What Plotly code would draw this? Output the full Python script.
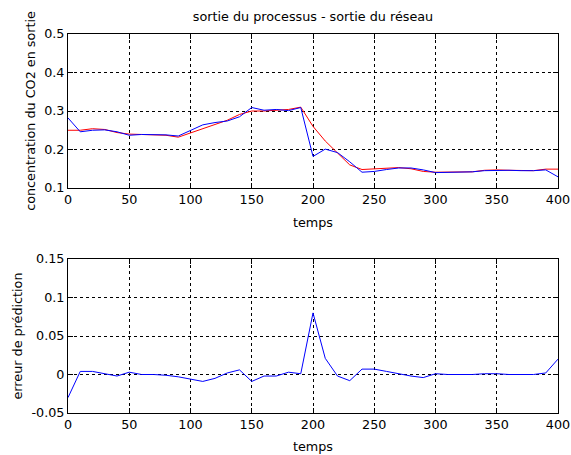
import plotly.graph_objects as go

temps = [0, 10, 20, 30, 40, 50, 60, 70, 80, 90, 100, 110, 120, 130, 140, 150, 160, 170, 180, 190,
         200, 210, 220, 230, 240, 250, 260, 270, 280, 290, 300, 310, 320, 330, 340, 350, 360, 370, 380, 390, 400]

sortie_processus = [0.250, 0.250, 0.254, 0.252, 0.244, 0.240, 0.239, 0.238, 0.237, 0.232,
                    0.243, 0.255, 0.265, 0.276, 0.291, 0.300, 0.300, 0.302, 0.304, 0.310,
                    0.260, 0.222, 0.190, 0.160, 0.148, 0.150, 0.152, 0.153, 0.150, 0.143,
                    0.141, 0.141, 0.141, 0.142, 0.146, 0.147, 0.146, 0.145, 0.145, 0.149, 0.149]

sortie_reseau = [0.282, 0.246, 0.250, 0.251, 0.246, 0.237, 0.239, 0.238, 0.238, 0.235,
                 0.249, 0.264, 0.270, 0.274, 0.285, 0.309, 0.302, 0.304, 0.301, 0.309,
                 0.182, 0.201, 0.192, 0.168, 0.141, 0.143, 0.148, 0.152, 0.152, 0.147,
                 0.140, 0.141, 0.141, 0.142, 0.145, 0.146, 0.146, 0.145, 0.145, 0.147, 0.129]

erreur = [-0.030, 0.004, 0.004, 0.001, -0.002, 0.003, 0.000, 0.000, -0.001, -0.003,
          -0.006, -0.009, -0.005, 0.002, 0.006, -0.009, -0.002, -0.002, 0.003, 0.001,
          0.080, 0.021, -0.002, -0.008, 0.007, 0.007, 0.004, 0.001, -0.002, -0.004,
          0.001, 0.000, 0.000, 0.000, 0.001, 0.001, 0.000, 0.000, 0.000, 0.002, 0.020]

x_ticks = [0, 50, 100, 150, 200, 250, 300, 350, 400]
y1_ticks = [0.1, 0.2, 0.3, 0.4, 0.5]
y1_labels = ["0.1", "0.2", "0.3", "0.4", "0.5"]
y2_ticks = [-0.05, 0, 0.05, 0.1, 0.15]
y2_labels = ["-0.05", "0", "0.05", "0.1", "0.15"]

FONT = dict(family="DejaVu Sans, sans-serif", size=12.75, color="black")

fig = go.Figure()
fig.add_trace(go.Scatter(x=temps, y=sortie_processus, mode="lines",
                         line=dict(color="#ff0000", width=1), xaxis="x", yaxis="y"))
fig.add_trace(go.Scatter(x=temps, y=sortie_reseau, mode="lines",
                         line=dict(color="#0000ff", width=1), xaxis="x", yaxis="y"))
fig.add_trace(go.Scatter(x=temps, y=erreur, mode="lines",
                         line=dict(color="#0000ff", width=1), xaxis="x2", yaxis="y2"))

H = 455
t, b = 34, 42
ph = H - t - b
top_dom = [(413 - 188) / ph, 1.0]
bot_dom = [0.0, (413 - 259) / ph]

axis_common = dict(showline=True, linecolor="black", linewidth=1, mirror="allticks",
                   ticks="inside", ticklen=5, tickcolor="black", tickwidth=1,
                   showgrid=True, gridcolor="black", gridwidth=1, griddash="3px,3px",
                   zeroline=False, tickfont=FONT, automargin=False)

fig.update_layout(
    width=571, height=455,
    margin=dict(l=68, r=13, t=t, b=b),
    paper_bgcolor="white", plot_bgcolor="white",
    showlegend=False,
    font=FONT,
    title=dict(text="sortie du processus - sortie du réseau", x=(68 + 558) / 2 / 571,
               xref="container", xanchor="center",
               y=1 - 17 / H, yref="container", yanchor="middle", font=FONT, automargin=False),
    xaxis=dict(axis_common, domain=[0, 1], range=[0, 400], tickvals=x_ticks,
               anchor="y", title=dict(text="temps", font=FONT, standoff=11)),
    yaxis=dict(axis_common, domain=top_dom, range=[0.1, 0.5], tickvals=y1_ticks,
               ticktext=y1_labels, anchor="x",
               title=dict(text="concentration du CO2 en sortie", font=FONT, standoff=5)),
    xaxis2=dict(axis_common, domain=[0, 1], range=[0, 400], tickvals=x_ticks,
                anchor="y2", title=dict(text="temps", font=FONT, standoff=10)),
    yaxis2=dict(axis_common, domain=bot_dom, range=[-0.05, 0.15], tickvals=y2_ticks,
                ticktext=y2_labels, anchor="x2",
                title=dict(text="erreur de prédiction", font=FONT, standoff=5)),
)

fig.write_html("out.html", config={"displayModeBar": False},
               post_script="document.body.style.margin='0px';")
